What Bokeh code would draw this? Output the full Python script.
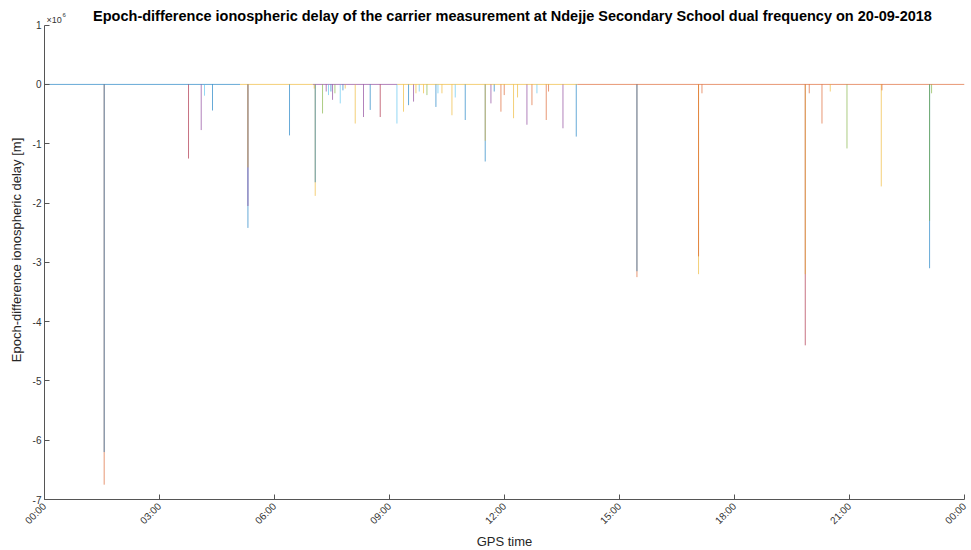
import math
from bokeh.plotting import figure
from bokeh.models import ColumnDataSource, FixedTicker, Label, Range1d
from bokeh.embed import file_html
from bokeh.resources import INLINE

# MATLAB default line colour order (one colour per satellite series)
series_colors = ["#0072BD", "#D95319", "#EDB120", "#7E2F8E", "#77AC30", "#4DBEEE", "#A2142F"]

# Epoch-difference spikes: GPS time [h], delay [x 1e6 m], series index
spike_hours = [
    1.557, 1.557, 3.757, 4.088, 4.174, 4.383, 5.307, 5.307, 5.307, 6.392,
    7.036, 7.062, 7.062, 7.253, 7.349, 7.409, 7.472, 7.514, 7.576, 7.715,
    7.785, 7.845, 8.106, 8.322, 8.497, 8.758, 9.194, 9.366, 9.497, 9.627,
    9.690, 9.776, 9.888, 9.977, 10.211, 10.264, 10.368, 10.629, 10.715, 10.976,
    11.497, 11.497, 11.646, 11.732, 11.907, 11.993, 12.236, 12.340, 12.585, 12.716,
    12.846, 13.089, 13.149, 13.525, 13.872, 15.455, 15.455, 17.062, 17.062, 17.151,
    19.846, 19.846, 19.950, 20.282, 20.498, 20.934, 21.829, 21.847, 23.089, 23.089,
    23.141,
]
spike_delay_1e6 = [
    -6.75, -6.20, -1.25, -0.77, -0.19, -0.44, -2.42, -2.05, -1.40, -0.86,
    -0.07, -1.88, -1.65, -0.49, -0.12, -0.18, -0.12, -0.26, -0.15, -0.32,
    -0.10, -0.07, -0.66, -0.55, -0.43, -0.55, -0.66, -0.46, -0.35, -0.29,
    -0.15, -0.12, -0.15, -0.18, -0.38, -0.15, -0.15, -0.52, -0.22, -0.60,
    -1.30, -0.95, -0.32, -0.12, -0.46, -0.18, -0.57, -0.22, -0.68, -0.35,
    -0.15, -0.60, -0.12, -0.74, -0.88, -3.25, -3.15, -3.20, -2.90, -0.15,
    -4.40, -3.20, -0.15, -0.66, -0.12, -1.08, -1.72, -0.10, -3.10, -2.30,
    -0.15,
]
spike_series = [
    1, 0, 6, 3, 5, 0, 0, 3, 2, 0,
    2, 2, 0, 4, 3, 5, 0, 3, 4, 5,
    0, 2, 2, 3, 0, 6, 5, 2, 0, 3,
    2, 5, 2, 4, 0, 5, 2, 2, 5, 0,
    0, 2, 3, 0, 1, 1, 2, 2, 3, 1,
    5, 1, 1, 3, 0, 1, 0, 2, 1, 1,
    6, 2, 1, 1, 2, 4, 2, 1, 0, 4,
    4,
]

# Quiet-epoch stretches along zero: start [h], end [h], series index
base_start = [0.0, 5.1, 7.0, 9.2, 13.9, 17.1]
base_end = [5.1, 7.0, 9.2, 13.9, 17.1, 24.0]
base_series = [0, 2, 3, 2, 1, 1]

tick_hours = [0, 3, 6, 9, 12, 15, 18, 21, 24]
tick_labels = ["00:00", "03:00", "06:00", "09:00", "12:00", "15:00", "18:00", "21:00", "00:00"]
y_ticks_1e6 = [-7, -6, -5, -4, -3, -2, -1, 0, 1]

SCALE = 1e6
FONT = "Liberation Sans"
# the frame reaches the top of the canvas so the heading and the
# axis multiplier can be drawn in it; the axis itself stops at +1
Y_TOP = 1.415 * SCALE

p = figure(
    frame_width=920, frame_height=499, output_backend="svg", toolbar_location=None,
    x_range=Range1d(0, 24), y_range=Range1d(-7 * SCALE, Y_TOP),
    min_border_left=44, min_border_right=7, min_border_top=0, min_border_bottom=51,
)
p.title.visible = False
p.background_fill_color = "white"
p.border_fill_color = "white"
p.outline_line_color = None
p.xgrid.visible = False
p.ygrid.visible = False

# zero baseline
base = ColumnDataSource(dict(
    x0=base_start, x1=base_end, y=[0.0] * len(base_start),
    color=[series_colors[s] for s in base_series],
))
p.segment(x0="x0", y0="y", x1="x1", y1="y", color="color", source=base,
          line_width=1, line_alpha=0.6)

# spikes, deepest first so shorter overlapping ones remain visible
order = sorted(range(len(spike_hours)), key=lambda i: spike_delay_1e6[i])
spikes = ColumnDataSource(dict(
    x=[spike_hours[i] for i in order],
    y0=[0.0] * len(order),
    y1=[spike_delay_1e6[i] * SCALE for i in order],
    color=[series_colors[spike_series[i]] for i in order],
))
p.segment(x0="x", y0="y0", x1="x", y1="y1", color="color", source=spikes,
          line_width=1, line_alpha=0.6)

axis_color = "#555555"
label_color = "#333333"

xa = p.xaxis[0]
xa.ticker = FixedTicker(ticks=tick_hours)
xa.major_label_overrides = {h: t for h, t in zip(tick_hours, tick_labels)}
xa.major_label_orientation = math.pi / 4
xa.axis_label = "GPS time"
xa.major_label_standoff = 5
xa.axis_label_standoff = 1
ya = p.yaxis[0]
ya.ticker = FixedTicker(ticks=[v * SCALE for v in y_ticks_1e6])
ya.major_label_overrides = {v * SCALE: str(v) for v in y_ticks_1e6}
ya.axis_label = "Epoch-difference ionospheric delay [m]"
ya.bounds = (-7 * SCALE, 1 * SCALE)
ya.major_label_standoff = 3
ya.axis_label_standoff = 6

for ax in (xa, ya):
    ax.axis_line_color = axis_color
    ax.major_tick_line_color = axis_color
    ax.major_tick_in = 5
    ax.major_tick_out = 0
    ax.minor_tick_line_color = None
    ax.major_label_text_font = FONT
    ax.major_label_text_font_size = "10px"
    ax.major_label_text_color = label_color
    ax.axis_label_text_font = FONT
    ax.axis_label_text_font_size = "13px"
    ax.axis_label_text_font_style = "normal"
    ax.axis_label_text_color = "#262626"

# heading
p.add_layout(Label(
    x=12, y=1 * SCALE, x_offset=8, y_offset=9.5,
    text=("Epoch-difference ionospheric delay of the carrier measurement at "
          "Ndejje Secondary School dual frequency on 20-09-2018"),
    text_font=FONT, text_font_size="14.5px", text_font_style="bold",
    text_color="#000000", text_align="center", text_baseline="alphabetic",
))

# common exponent of the y-axis
p.add_layout(Label(x=0, y=1 * SCALE, x_offset=2, y_offset=5, text="×10",
                   text_font=FONT, text_font_size="9px", text_color=label_color,
                   text_baseline="alphabetic"))
p.add_layout(Label(x=0, y=1 * SCALE, x_offset=18, y_offset=10, text="6",
                   text_font=FONT, text_font_size="6px", text_color=label_color,
                   text_baseline="alphabetic"))

open("out.html", "w").write(file_html(p, INLINE))
